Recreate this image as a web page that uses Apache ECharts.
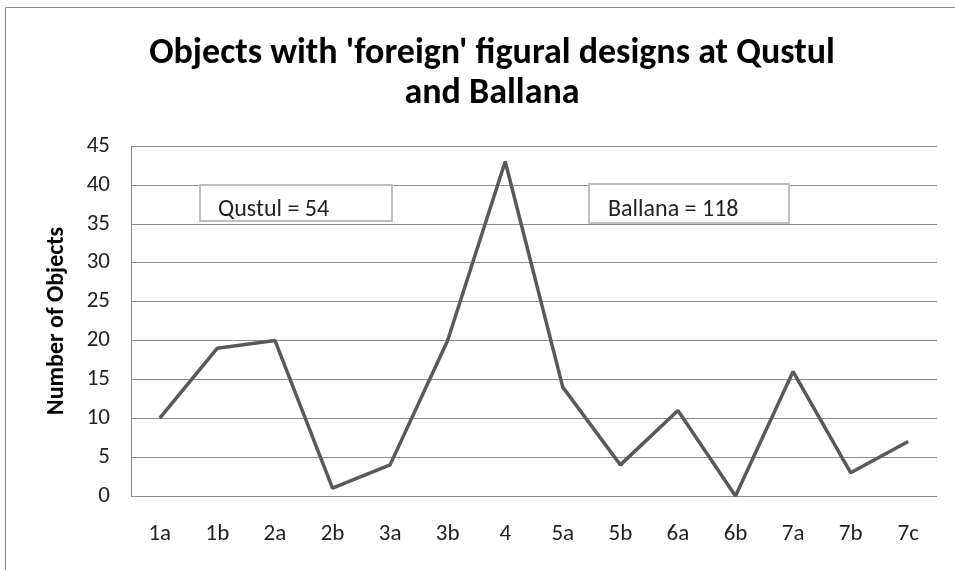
<!DOCTYPE html>
<html><head><meta charset="utf-8">
<script src="https://cdn.jsdelivr.net/npm/echarts@6/dist/echarts.min.js"></script>
<style>html,body{margin:0;padding:0;background:#fff}#c{width:955px;height:570px}</style>
</head><body><div id="c"></div>
<script>
const categories = ['1a','1b','2a','2b','3a','3b','4','5a','5b','6a','6b','7a','7b','7c'];
const objectCounts = [10,19,20,1,4,20,43,14,4,11,0,16,3,7];
const yTicks = {min:0, max:45, interval:5};
const titleText = "Objects with 'foreign' figural designs at Qustul\nand Ballana";
const yAxisTitle = 'Number of Objects';
const noteQustul = 'Qustul = 54';
const noteBallana = 'Ballana = 118';

const FONT = 'Carlito, "Liberation Sans Narrow", "DejaVu Sans Condensed", sans-serif';
const chart = echarts.init(document.getElementById('c'), null, {renderer:'canvas'});
chart.setOption({
  animation:false,
  backgroundColor:'#fff',
  title:{text:titleText,left:487,top:29,textAlign:'center',
    textStyle:{fontFamily:FONT,fontSize:36,fontWeight:'bold',color:'#000',lineHeight:40}},
  grid:{left:131,right:18,top:146,bottom:74,containLabel:false},
  xAxis:{type:'category',data:categories,boundaryGap:true,
    axisLine:{show:false},axisTick:{show:false},
    axisLabel:{margin:27,fontFamily:FONT,fontSize:23,color:'#222'},
    splitLine:{show:false}},
  yAxis:{type:'value',min:yTicks.min,max:yTicks.max,interval:yTicks.interval,
    name:yAxisTitle,nameLocation:'middle',nameGap:62,nameRotate:90,
    nameTextStyle:{fontFamily:FONT,fontSize:24,fontWeight:'bold',color:'#000'},
    axisLine:{show:true,lineStyle:{color:'#888',width:1}},axisTick:{show:false},
    axisLabel:{margin:21,fontFamily:FONT,fontSize:23,color:'#222'},
    splitLine:{show:true,lineStyle:{color:'#8c8c8c',width:1}}},
  series:[{type:'line',data:objectCounts,symbol:'none',
    lineStyle:{color:'#595959',width:3.5},z:3}],
  graphic:[
    {type:'rect',shape:{x:5.5,y:7.5,width:1000,height:600},style:{fill:'none',stroke:'#888',lineWidth:1},z:0,silent:true},
    {type:'rect',shape:{x:200,y:185,width:192,height:36},style:{fill:'#fff',stroke:'#bfbfbf',lineWidth:2},z:10},
    {type:'text',x:218,y:210,style:{text:noteQustul,fontFamily:FONT,fontSize:24,fill:'#222',verticalAlign:'middle'},z:11},
    {type:'rect',shape:{x:589,y:184,width:200,height:39},style:{fill:'#fff',stroke:'#bfbfbf',lineWidth:2},z:10},
    {type:'text',x:608,y:210,style:{text:noteBallana,fontFamily:FONT,fontSize:24,fill:'#222',verticalAlign:'middle'},z:11}
  ]
});
</script></body></html>
